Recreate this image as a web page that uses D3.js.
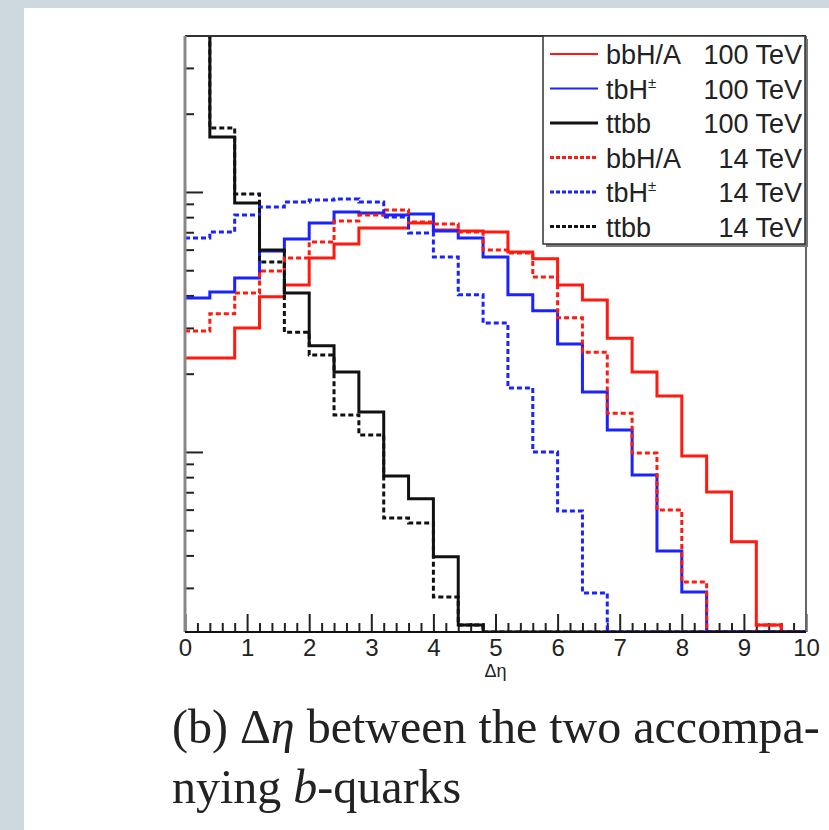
<!DOCTYPE html>
<html>
<head>
<meta charset="utf-8">
<script src="https://cdn.jsdelivr.net/npm/d3@7"></script>
<style>
  body { margin: 0; background: #cdd8de; }
  svg { display: block; }
</style>
</head>
<body>
<svg></svg>
<script>
// Delta eta between the two b-quarks, log y histogram

var binEdges = [0, 0.4, 0.8, 1.2, 1.6, 2.0, 2.4, 2.8, 3.2, 3.6, 4.0, 4.4, 4.8,
                5.2, 5.6, 6.0, 6.4, 6.8, 7.2, 7.6, 8.0, 8.4, 8.8, 9.2, 9.6, 10];

var bbhA100 = [0.0230, 0.0230, 0.0300, 0.0395, 0.0439, 0.0557, 0.0631, 0.0727, 0.0727, 0.0760,
               0.0714, 0.0708, 0.0702, 0.0588, 0.0553, 0.0439, 0.0384, 0.0274, 0.0203, 0.0164,
               0.00965, 0.00702, 0.00451, 0.00216, 0];
var tbH100  = [0.0391, 0.0412, 0.0467, 0.0593, 0.0659, 0.0760, 0.0838, 0.0830, 0.0815, 0.0823,
               0.0708, 0.0665, 0.0562, 0.0402, 0.0349, 0.0260, 0.0170, 0.01215, 0.00816, 0.00416,
               0.00289, 0, 0, 0, 0];
var ttbb100 = [0.5, 0.1627, 0.0907, 0.0598, 0.0409, 0.0256, 0.0203, 0.01425, 0.00809, 0.00660,
               0.00395, 0.00216, 0, 0, 0, 0, 0, 0, 0, 0, 0, 0, 0, 0, 0];
var bbhA14  = [0.0292, 0.0340, 0.0409, 0.0497, 0.0557, 0.0642, 0.0774, 0.0815, 0.0853, 0.0767,
               0.0753, 0.0702, 0.0598, 0.0583, 0.0471, 0.0328, 0.0242, 0.0141, 0.00991, 0.00598,
               0.00316, 0, 0, 0.00216, 0];
var tbH14   = [0.0665, 0.0702, 0.0815, 0.0876, 0.0915, 0.0931, 0.0940, 0.0915, 0.0801, 0.0696,
               0.0562, 0.0402, 0.0313, 0.01763, 0.0100, 0.00593, 0.00287, 0, 0, 0,
               0, 0, 0, 0, 0];
var ttbb14  = [0.5, 0.1763, 0.0982, 0.0538, 0.0289, 0.0236, 0.01388, 0.01162, 0.00557, 0.00533,
               0.00277, 0.00216, 0, 0, 0, 0, 0, 0, 0, 0, 0, 0, 0, 0, 0];

var seriesNames  = ["bbH/A", "tbH", "ttbb", "bbH/A", "tbH", "ttbb"];
var seriesEnergy = ["100 TeV", "100 TeV", "100 TeV", "14 TeV", "14 TeV", "14 TeV"];

var xMajorTicks = [0, 1, 2, 3, 4, 5, 6, 7, 8, 9, 10];
var xMinorTicks = [0.2, 0.4, 0.6, 0.8, 1.2, 1.4, 1.6, 1.8, 2.2, 2.4, 2.6, 2.8, 3.2, 3.4, 3.6, 3.8,
                   4.2, 4.4, 4.6, 4.8, 5.2, 5.4, 5.6, 5.8, 6.2, 6.4, 6.6, 6.8, 7.2, 7.4, 7.6, 7.8,
                   8.2, 8.4, 8.6, 8.8, 9.2, 9.4, 9.6, 9.8];
var yMajorTicks = [0.01, 0.1];
var yMinorTicks = [0.003, 0.004, 0.005, 0.006, 0.007, 0.008, 0.009,
                   0.02, 0.03, 0.04, 0.05, 0.06, 0.07, 0.08, 0.09, 0.2, 0.3];
var yDomain = [0.00203, 0.398];

var svgWidth = 829, svgHeight = 830;
var plotLeft = 185, plotRight = 806, plotTop = 36, plotBottom = 632;

var svg = d3.select('svg')
    .attr("width", svgWidth)
    .attr("height", svgHeight);

svg.append("rect")
    .attr("width", svgWidth).attr("height", svgHeight)
    .attr("fill", "#cdd8de");
svg.append("rect")
    .attr("x", 24).attr("y", 8)
    .attr("width", svgWidth - 24).attr("height", svgHeight - 8)
    .attr("fill", "#ffffff");

var xScale = d3.scaleLinear()
    .domain([0, 10])
    .range([plotLeft, plotRight]);

var yScale = d3.scaleLog()
    .domain(yDomain)
    .range([plotBottom, plotTop]);

svg.append("clipPath").attr("id", "plotclip")
  .append("rect")
    .attr("x", plotLeft).attr("y", plotTop - 1)
    .attr("width", plotRight - plotLeft).attr("height", plotBottom - plotTop + 2);

// axes (ticks point inward, like ROOT)
var xMajor = svg.append("g")
    .attr("transform", "translate(0," + plotBottom + ")")
    .call(d3.axisBottom(xScale).tickValues(xMajorTicks).tickSizeInner(-18).tickSizeOuter(0).tickPadding(7)
        .tickFormat(d3.format("d")));
var xMinor = svg.append("g")
    .attr("transform", "translate(0," + plotBottom + ")")
    .call(d3.axisBottom(xScale).tickValues(xMinorTicks).tickSizeInner(-9).tickSizeOuter(0).tickFormat(""));
var yMajor = svg.append("g")
    .attr("transform", "translate(" + plotLeft + ",0)")
    .call(d3.axisLeft(yScale).tickValues(yMajorTicks).tickSizeInner(-18).tickSizeOuter(0).tickFormat(""));
var yMinor = svg.append("g")
    .attr("transform", "translate(" + plotLeft + ",0)")
    .call(d3.axisLeft(yScale).tickValues(yMinorTicks).tickSizeInner(-9).tickSizeOuter(0).tickFormat(""));

svg.selectAll(".domain").remove();
svg.selectAll(".tick line").attr("stroke", "#222").attr("stroke-width", 2);
xMajor.selectAll("text")
    .attr("font-family", "Liberation Sans, Arial, sans-serif")
    .attr("font-size", 24)
    .attr("fill", "#222");

svg.append("text")
    .attr("x", xScale(5)).attr("y", 677)
    .attr("text-anchor", "middle")
    .attr("font-family", "Liberation Sans, Arial, sans-serif")
    .attr("font-size", 18)
    .attr("fill", "#222")
    .text("Δη");

// histograms
var series = [
  { values: bbhA100, color: "#ff1a10", dash: null },
  { values: tbH100,  color: "#1a22ff", dash: null },
  { values: ttbb100, color: "#111111", dash: null },
  { values: bbhA14,  color: "#ff1a10", dash: "5,3" },
  { values: tbH14,   color: "#1a22ff", dash: "5,3" },
  { values: ttbb14,  color: "#111111", dash: "5,3" }
];

var stepLine = d3.line()
    .x(function (d) { return xScale(d.x); })
    .y(function (d) { return yScale(Math.max(d.v, yDomain[0])); })
    .curve(d3.curveStepAfter);

var histGroup = svg.append("g").attr("clip-path", "url(#plotclip)");

histGroup.selectAll("path")
    .data(series)
    .enter()
    .append("path")
    .attr("d", function (s) {
        var pts = binEdges.map(function (e, i) {
            return { x: e, v: s.values[Math.min(i, s.values.length - 1)] };
        });
        return stepLine(pts);
    })
    .attr("fill", "none")
    .attr("stroke", function (s) { return s.color; })
    .attr("stroke-width", 3)
    .attr("stroke-dasharray", function (s) { return s.dash; });

// frame
svg.append("line").attr("x1", plotLeft).attr("x2", plotRight).attr("y1", plotTop).attr("y2", plotTop)
    .attr("stroke", "#333").attr("stroke-width", 2);
svg.append("line").attr("x1", plotRight).attr("x2", plotRight).attr("y1", plotTop).attr("y2", plotBottom)
    .attr("stroke", "#666").attr("stroke-width", 2);
svg.append("line").attr("x1", plotLeft).attr("x2", plotLeft).attr("y1", plotTop).attr("y2", plotBottom)
    .attr("stroke", "#888").attr("stroke-width", 3);
svg.append("line").attr("x1", plotLeft).attr("x2", plotRight).attr("y1", plotBottom).attr("y2", plotBottom)
    .attr("stroke", "#111").attr("stroke-width", 2);

// legend
var legX = 543, legY = 36, legW = 262, legH = 208, rowH = 34.5;
svg.append("rect")
    .attr("x", legX + 3).attr("y", legY + 3)
    .attr("width", legW).attr("height", legH)
    .attr("fill", "#777");
svg.append("rect")
    .attr("x", legX).attr("y", legY)
    .attr("width", legW).attr("height", legH)
    .attr("fill", "#fff")
    .attr("stroke", "#333").attr("stroke-width", 1.5);

var legRows = svg.selectAll(".legrow")
    .data(series)
    .enter()
    .append("g")
    .attr("class", "legrow")
    .attr("transform", function (d, i) {
        return "translate(0," + (legY + 18 + rowH * i) + ")";
    });

legRows.append("line")
    .attr("x1", 550).attr("x2", 598)
    .attr("stroke", function (d) { return d.color; })
    .attr("stroke-width", function (d, i) { return i < 2 ? 2 : 3; })
    .attr("stroke-dasharray", function (d) { return d.dash ? "4,2" : null; });

var nameText = legRows.append("text")
    .attr("x", 606).attr("y", 10)
    .attr("font-family", "Liberation Sans, Arial, sans-serif")
    .attr("font-size", 27)
    .attr("fill", "#222")
    .text(function (d, i) { return seriesNames[i]; });

nameText.filter(function (d, i) { return seriesNames[i] === "tbH"; })
  .append("tspan")
    .attr("dy", -11)
    .attr("font-size", 15)
    .text("±");

legRows.append("text")
    .attr("x", 802).attr("y", 10)
    .attr("text-anchor", "end")
    .attr("font-family", "Liberation Sans, Arial, sans-serif")
    .attr("font-size", 27)
    .attr("fill", "#222")
    .text(function (d, i) { return seriesEnergy[i]; });

// caption
var serif = "Liberation Serif, Times New Roman, serif";
var cap1 = svg.append("text")
    .attr("x", 172).attr("y", 743)
    .attr("font-family", serif)
    .attr("font-size", 34)
    .attr("fill", "#222");
cap1.append("tspan").text("(b) Δ");
cap1.append("tspan").attr("font-style", "italic").text("η");
cap1.append("tspan").text(" between the two accompa-");

var cap2 = svg.append("text")
    .attr("x", 172).attr("y", 803)
    .attr("font-family", serif)
    .attr("font-size", 34)
    .attr("fill", "#222");
cap2.append("tspan").text("nying ");
cap2.append("tspan").attr("font-style", "italic").text("b");
cap2.append("tspan").text("-quarks");

// widen the serif caption to the width it has in the figure
var w1 = cap1.node().getComputedTextLength();
var capSize = 34 * 648 / w1;
cap1.attr("font-size", capSize);
cap2.attr("font-size", capSize);
</script>
</body>
</html>
